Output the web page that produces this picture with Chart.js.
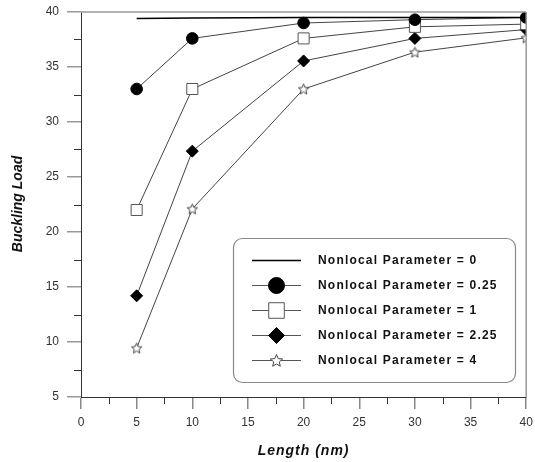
<!DOCTYPE html>
<html lang="en">
<head>
  <meta charset="UTF-8" />
  <title>Buckling Load vs Length</title>
  <script src="https://cdn.jsdelivr.net/npm/chart.js"></script>
  <style>
    html, body {
      margin: 0;
      padding: 0;
      background: #fff;
    }
    #chart-container {
      width: 535px;
      height: 462px;
    }
  </style>
</head>
<body>
  <div id="chart-container">
    <canvas id="bucklingChart" width="535" height="462"></canvas>
  </div>

  <script>
    // data
    const lengths = [5, 10, 20, 30, 40];
    const seriesLabels = [
      'Nonlocal Parameter = 0',
      'Nonlocal Parameter = 0.25',
      'Nonlocal Parameter = 1',
      'Nonlocal Parameter = 2.25',
      'Nonlocal Parameter = 4'
    ];
    const np0 = [39.4, 39.45, 39.5, 39.5, 39.5];
    const np025 = [33.0, 37.6, 39.0, 39.3, 39.5];
    const np1 = [22.0, 33.0, 37.6, 38.65, 38.9];
    const np225 = [14.2, 27.35, 35.55, 37.6, 38.4];
    const np4 = [9.45, 22.1, 33.0, 36.35, 37.65];
    const yTicks = [5, 10, 15, 20, 25, 30, 35, 40];
    const xTicks = [0, 5, 10, 15, 20, 25, 30, 35, 40];

    // hollow five point star used as a marker
    function makeStar(size) {
      const c = document.createElement('canvas');
      c.width = size;
      c.height = size;
      const g = c.getContext('2d');
      const cx = size / 2, cy = size / 2 + 0.5;
      const R = size / 2 - 1, r = R * 0.45;
      g.beginPath();
      for (let i = 0; i < 10; i++) {
        const rad = i % 2 === 0 ? R : r;
        const a = -Math.PI / 2 + i * Math.PI / 5;
        const px = cx + rad * Math.cos(a);
        const py = cy + rad * Math.sin(a);
        if (i === 0) g.moveTo(px, py); else g.lineTo(px, py);
      }
      g.closePath();
      g.fillStyle = '#fff';
      g.fill();
      g.strokeStyle = '#444';
      g.lineWidth = 1;
      g.stroke();
      return c;
    }
    const starSmall = makeStar(13);
    const starLegend = makeStar(15);

    const toPoints = (arr) => arr.map((v, i) => ({ x: lengths[i], y: v }));

    const lineColor = '#444';

    // legend + frame + minor ticks + axis titles
    const decorPlugin = {
      id: 'decor',
      afterDraw(chart) {
        const ctx = chart.ctx;
        const { left, right, top, bottom } = chart.chartArea;
        const xs = chart.scales.x, ys = chart.scales.y;
        ctx.save();

        // top and right frame
        ctx.strokeStyle = '#999';
        ctx.lineWidth = 1.5;
        ctx.beginPath();
        ctx.moveTo(left, top);
        ctx.lineTo(right, top);
        ctx.moveTo(right, top);
        ctx.lineTo(right, bottom);
        ctx.stroke();

        // minor ticks
        ctx.strokeStyle = '#333';
        ctx.lineWidth = 1;
        ctx.beginPath();
        for (let v = 7.5; v < 40; v += 5) {
          const py = Math.round(ys.getPixelForValue(v)) + 0.5;
          ctx.moveTo(left - 7, py);
          ctx.lineTo(left, py);
        }
        for (let v = 2.5; v < 40; v += 5) {
          const px = Math.round(xs.getPixelForValue(v)) + 0.5;
          ctx.moveTo(px, bottom);
          ctx.lineTo(px, bottom + 7);
        }
        ctx.stroke();

        // axis titles
        ctx.fillStyle = '#111';
        ctx.textAlign = 'center';
        ctx.textBaseline = 'middle';
        ctx.font = 'italic bold 14px "Liberation Sans", Arial, sans-serif';
        ctx.letterSpacing = '1px';
        ctx.fillText('Length (nm)', (left + right) / 2, 451);
        ctx.letterSpacing = '0px';
        ctx.save();
        ctx.translate(18, 204);
        ctx.rotate(-Math.PI / 2);
        ctx.fillText('Buckling Load', 0, 0);
        ctx.restore();

        // legend box
        const bx = 233.5, by = 238.5, bw = 282, bh = 144, br = 9;
        ctx.beginPath();
        ctx.roundRect(bx, by, bw, bh, br);
        ctx.fillStyle = '#fff';
        ctx.fill();
        ctx.strokeStyle = '#888';
        ctx.lineWidth = 1.2;
        ctx.stroke();

        const legendSizes = [0, 8, 11, 8, 0];
        chart.data.datasets.forEach((ds, i) => {
          const ry = 260.5 + i * 25;
          ctx.strokeStyle = i === 0 ? '#000' : '#555';
          ctx.lineWidth = i === 0 ? 1.5 : 1;
          ctx.beginPath();
          ctx.moveTo(252, ry);
          ctx.lineTo(301, ry);
          ctx.stroke();
          if (i > 0) {
            ctx.fillStyle = ds.pointBackgroundColor;
            ctx.strokeStyle = ds.pointBorderColor;
            ctx.lineWidth = 1;
            Chart.helpers.drawPoint(ctx, {
              pointStyle: i === 4 ? starLegend : ds.pointStyle,
              radius: legendSizes[i],
              borderWidth: 1,
              rotation: 0
            }, 276.5, ry);
          }
          ctx.fillStyle = '#111';
          ctx.textAlign = 'left';
          ctx.textBaseline = 'middle';
          ctx.font = 'bold 12px "Liberation Sans", Arial, sans-serif';
          ctx.letterSpacing = '1.2px';
          ctx.fillText(ds.label, 318, ry);
          ctx.letterSpacing = '0px';
        });

        ctx.restore();
      }
    };

    const ctx = document.getElementById('bucklingChart').getContext('2d');

    new Chart(ctx, {
      type: 'line',
      data: {
        datasets: [
          {
            label: seriesLabels[0],
            data: toPoints(np0),
            borderColor: '#000',
            borderWidth: 1.5,
            pointRadius: 0,
            pointStyle: 'line'
          },
          {
            label: seriesLabels[1],
            data: toPoints(np025),
            borderColor: lineColor,
            borderWidth: 1,
            pointStyle: 'circle',
            pointRadius: 5.8,
            pointBackgroundColor: '#000',
            pointBorderColor: '#000',
            pointBorderWidth: 1
          },
          {
            label: seriesLabels[2],
            data: toPoints(np1),
            borderColor: lineColor,
            borderWidth: 1,
            pointStyle: 'rect',
            pointRadius: 7.8,
            pointBackgroundColor: '#fff',
            pointBorderColor: '#555',
            pointBorderWidth: 1
          },
          {
            label: seriesLabels[3],
            data: toPoints(np225),
            borderColor: lineColor,
            borderWidth: 1,
            pointStyle: 'rectRot',
            pointRadius: 6,
            pointBackgroundColor: '#000',
            pointBorderColor: '#000',
            pointBorderWidth: 1
          },
          {
            label: seriesLabels[4],
            data: toPoints(np4),
            borderColor: lineColor,
            borderWidth: 1,
            pointStyle: starSmall,
            pointRadius: 6,
            pointBackgroundColor: '#fff',
            pointBorderColor: '#444',
            pointBorderWidth: 1
          }
        ]
      },
      options: {
        responsive: false,
        animation: false,
        layout: {
          padding: { left: 0, right: 6, top: 12, bottom: 0 }
        },
        plugins: {
          legend: { display: false },
          tooltip: { enabled: false }
        },
        elements: {
          line: { tension: 0 }
        },
        scales: {
          x: {
            type: 'linear',
            min: 0,
            max: 40,
            afterFit(scale) {
              scale.height = 65;
              scale.paddingLeft = 0;
              scale.paddingRight = 0;
            },
            afterBuildTicks(scale) { scale.ticks = xTicks.map(v => ({ value: v })); },
            grid: {
              drawOnChartArea: false,
              drawTicks: true,
              tickLength: 12,
              color: '#888',
              lineWidth: 1.5
            },
            border: { color: '#333', width: 1 },
            ticks: {
              padding: 6,
              color: '#333',
              maxRotation: 0,
              font: { family: '"Liberation Sans", Arial, sans-serif', size: 12 }
            }
          },
          y: {
            type: 'linear',
            min: 5,
            max: 40,
            afterFit(scale) {
              scale.width = 81;
              scale.paddingTop = 0;
              scale.paddingBottom = 0;
            },
            afterBuildTicks(scale) { scale.ticks = yTicks.map(v => ({ value: v })); },
            grid: {
              drawOnChartArea: false,
              drawTicks: true,
              tickLength: 14,
              color: '#999',
              lineWidth: 1.5
            },
            border: { color: '#333', width: 1 },
            ticks: {
              padding: 8,
              color: '#333',
              font: { family: '"Liberation Sans", Arial, sans-serif', size: 12 }
            }
          }
        }
      },
      plugins: [decorPlugin]
    });
  </script>
</body>
</html>
